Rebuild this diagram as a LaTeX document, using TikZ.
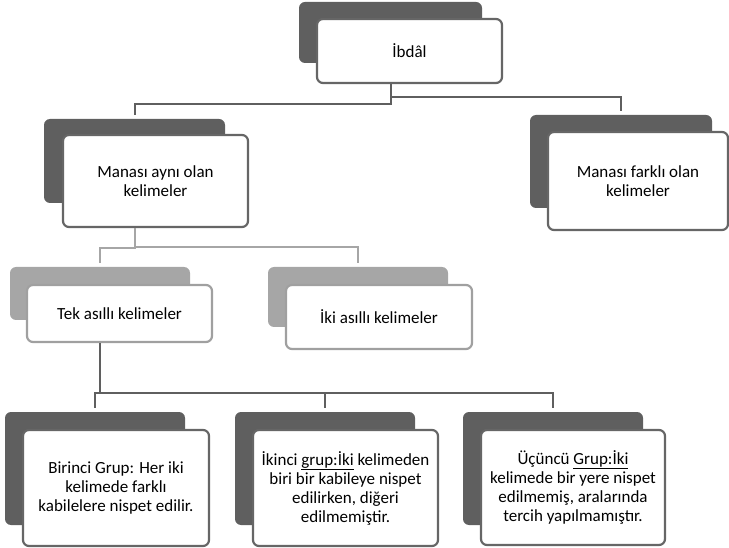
\documentclass[tikz,border=0pt]{standalone}
\usepackage{fontspec}
\setmainfont{Carlito}
\definecolor{shade}{HTML}{5F5F5F}
\definecolor{shadelite}{HTML}{A6A6A6}
\definecolor{rim}{HTML}{666666}
\definecolor{rimlite}{HTML}{A0A0A0}
\begin{document}
\begin{tikzpicture}[
  x=1pt,y=-1pt,
  backcard/.style={fill=shade, rounded corners=6pt, inner sep=0pt},
  backlite/.style={backcard, fill=shadelite},
  frontcard/.style={draw=rim, line width=2.2pt, fill=white, rounded corners=6pt, inner sep=0pt, align=center, font=\fontsize{17}{19}\selectfont},
  frontlite/.style={frontcard, draw=rimlite},
  link/.style={draw=shade, line width=2pt, shorten >=4pt},
  linklite/.style={link, draw=shadelite}
]
\useasboundingbox (0,0) rectangle (729,548);

\node[backcard, minimum width=183pt, minimum height=61pt] (ibdalB) at (390.5,32.5) {};
\node[frontcard, minimum width=185pt, minimum height=64pt] (ibdal) at (409.5,51) {İbdâl};

\node[backcard, minimum width=181pt, minimum height=84pt] (ayniB) at (134.5,161) {};
\node[frontcard, minimum width=185pt, minimum height=92pt] (ayni) at (155.5,181) {Manası aynı olan\\kelimeler};

\node[backcard, minimum width=182pt, minimum height=93pt] (farkliB) at (621,161.5) {};
\node[frontcard, minimum width=180pt, minimum height=98pt] (farkli) at (638,181) {Manası farklı olan\\kelimeler};

\node[backlite, minimum width=180pt, minimum height=53pt] (tekB) at (100,293.5) {};
\node[frontlite, minimum width=185pt, minimum height=57pt] (tek) at (119.5,313.5) {Tek asıllı kelimeler};

\node[backlite, minimum width=180pt, minimum height=60pt] (ikiB) at (358,297) {};
\node[frontlite, minimum width=186pt, minimum height=64pt] (iki) at (379,317) {İki asıllı kelimeler};

\node[backcard, minimum width=180pt, minimum height=113pt] (birB) at (95,468.5) {};
\node[frontcard, minimum width=186pt, minimum height=116pt] (bir) at (116,488) {Birinci Grup: Her iki\\kelimede farklı\\kabilelere nispet edilir.};

\node[backcard, minimum width=180pt, minimum height=113pt] (ikinciB) at (325,468.5) {};
\node[frontcard, minimum width=185pt, minimum height=116pt] (ikinci) at (345.5,488) {İkinci \underline{grup:İki} kelimeden\\biri bir kabileye nispet\\edilirken, diğeri\\edilmemiştir.};

\node[backcard, minimum width=180pt, minimum height=113pt] (ucB) at (553,468.5) {};
\node[frontcard, minimum width=184pt, minimum height=115pt] (uc) at (573,487.5) {Üçüncü \underline{Grup:İki}\\kelimede bir yere nispet\\edilmemiş, aralarında\\tercih yapılmamıştır.};

\draw[link] (ibdalB |- ibdal.south) -- (ibdalB |- 0,104) -| (ayniB.north);
\draw[link] (ibdalB |- ibdal.south) -- (ibdalB |- 0,97) -| (farkliB.north);
\draw[linklite] (ayniB |- ayni.south) -- (ayniB |- 0,248) -| (tekB.north);
\draw[linklite] (ayniB |- ayni.south) -- (ayniB |- 0,247) -| (ikiB.north);
\draw[link] (tekB |- tek.south) -- (tekB |- 0,393) -| (birB.north);
\draw[link] (tekB |- tek.south) -- (tekB |- 0,393) -| (ikinciB.north);
\draw[link] (tekB |- tek.south) -- (tekB |- 0,393) -| (ucB.north);
\end{tikzpicture}
\end{document}
